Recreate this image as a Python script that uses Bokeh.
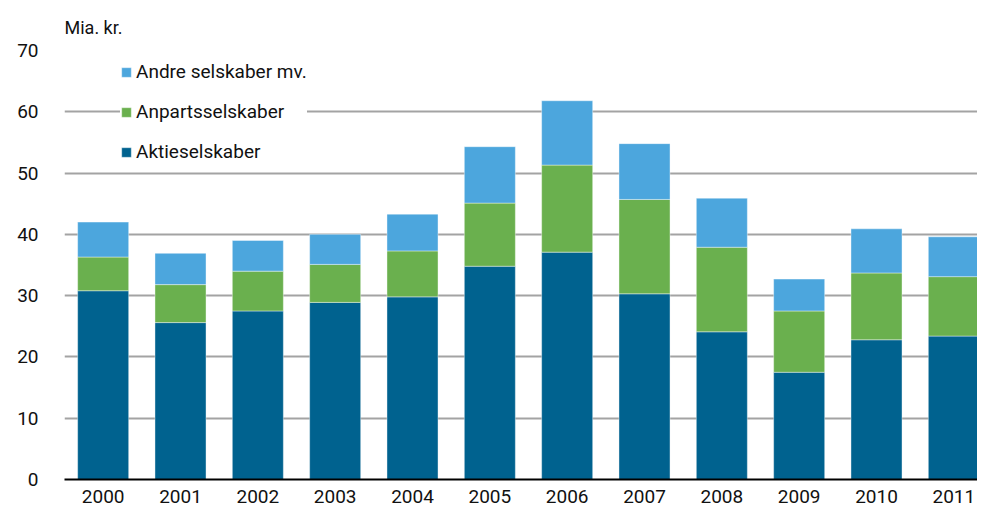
from bokeh.plotting import figure
from bokeh.models import ColumnDataSource, Range1d, FixedTicker, Legend, LegendItem
from bokeh.embed import file_html
from bokeh.resources import INLINE

years = ["2000", "2001", "2002", "2003", "2004", "2005", "2006", "2007", "2008", "2009", "2010", "2011"]
aktieselskaber = [30.8, 25.6, 27.5, 28.9, 29.8, 34.8, 37.1, 30.3, 24.1, 17.5, 22.8, 23.4]
anpartsselskaber = [5.5, 6.2, 6.5, 6.2, 7.5, 10.3, 14.2, 15.4, 13.8, 10.0, 10.9, 9.7]
andre = [5.7, 5.1, 5.0, 4.9, 6.0, 9.2, 10.5, 9.1, 8.0, 5.2, 7.2, 6.5]
series = ["Aktieselskaber", "Anpartsselskaber", "Andre selskaber mv."]
colors = ["#00628f", "#6ab04e", "#4ca6dd"]
y_ticks = [0, 10, 20, 30, 40, 50, 60, 70]

FONT = "Roboto"
TXT = "#111111"

xs = list(range(len(years)))
src = ColumnDataSource(dict(x=xs, Aktieselskaber=aktieselskaber,
                            Anpartsselskaber=anpartsselskaber,
                            **{"Andre selskaber mv.": andre}))

p = figure(width=977, height=510, output_backend="svg", toolbar_location=None,
           x_range=Range1d(-0.5, 11.306), y_range=Range1d(0, 70),
           min_border_left=64, min_border_right=0, min_border_top=50, min_border_bottom=31)
p.outline_line_color = None

rs = p.vbar_stack(series, x="x", width=0.66, source=src, color=colors,
                  line_color="white", line_alpha=0.4, line_width=1)

p.title.text = "Mia. kr."
p.title.align = "left"
p.title.text_font = FONT
p.title.text_font_size = "18px"
p.title.text_font_style = "normal"
p.title.text_color = TXT
p.title.standoff = 25

p.xgrid.grid_line_color = None
p.ygrid.grid_line_color = "#a3a3a3"
p.ygrid.grid_line_width = 2
p.ygrid.ticker = FixedTicker(ticks=y_ticks)

p.yaxis.ticker = FixedTicker(ticks=y_ticks)
p.yaxis.axis_line_color = None
p.yaxis.major_tick_line_color = None
p.yaxis.minor_tick_line_color = None
p.yaxis.major_label_standoff = 20
p.yaxis.major_label_text_font = FONT
p.yaxis.major_label_text_font_size = "19px"
p.yaxis.major_label_text_color = TXT

p.xaxis.ticker = FixedTicker(ticks=xs)
p.xaxis.major_label_overrides = {i: y for i, y in zip(xs, years)}
p.xaxis.axis_line_color = "black"
p.xaxis.axis_line_width = 2
p.xaxis.major_tick_line_color = None
p.xaxis.minor_tick_line_color = None
p.xaxis.major_label_standoff = 4
p.xaxis.major_label_text_font = FONT
p.xaxis.major_label_text_font_size = "19px"
p.xaxis.major_label_text_color = TXT

items = [LegendItem(label=series[i], renderers=[rs[i]]) for i in (2, 1, 0)]
legend = Legend(items=items, location=(56, 316), orientation="vertical",
                glyph_width=12, glyph_height=12, label_height=19, spacing=17,
                label_standoff=4, padding=8, margin=0,
                label_text_font=FONT, label_text_font_size="19px", label_text_color=TXT,
                background_fill_color="white", background_fill_alpha=1.0,
                border_line_color=None)
p.add_layout(legend)

open("out.html", "w").write(file_html(p, INLINE))
